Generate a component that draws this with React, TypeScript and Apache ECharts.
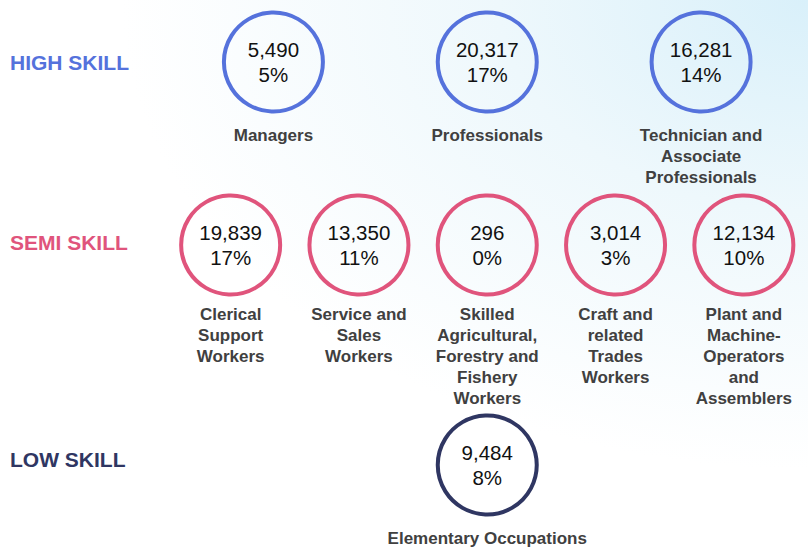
import React, { useEffect, useRef } from "react";
import * as echarts from "echarts";

const rowLabels = ["HIGH SKILL", "SEMI SKILL", "LOW SKILL"];

const highCategories = ["Managers", "Professionals", "Technician and\nAssociate\nProfessionals"];
const highValues = [5490, 20317, 16281];
const highPercents = [5, 17, 14];

const semiCategories = [
  "Clerical\nSupport\nWorkers",
  "Service and\nSales\nWorkers",
  "Skilled\nAgricultural,\nForestry and\nFishery\nWorkers",
  "Craft and\nrelated\nTrades\nWorkers",
  "Plant and\nMachine-\nOperators\nand\nAssemblers",
];
const semiValues = [19839, 13350, 296, 3014, 12134];
const semiPercents = [17, 11, 0, 3, 10];

const lowCategories = ["Elementary Occupations"];
const lowValues = [9484];
const lowPercents = [8];

const rowColors = ["#5572DC", "#E0547C", "#2F3662"];

const FONT = "'Liberation Sans', Arial, Helvetica, sans-serif";

export default function App() {
  const ref = useRef<HTMLDivElement>(null);

  useEffect(() => {
    document.body.style.margin = "0";
    if (!ref.current) return;
    const chart = echarts.init(ref.current, undefined, { renderer: "svg" });

    const rows = [
      { cats: highCategories, vals: highValues, pcts: highPercents, top: 12, xMargin: 13, yAlign: "middle", yLH: 21 },
      { cats: semiCategories, vals: semiValues, pcts: semiPercents, top: 195, xMargin: 9, yAlign: "bottom", yLH: 5 },
      { cats: lowCategories, vals: lowValues, pcts: lowPercents, top: 415, xMargin: 13, yAlign: "bottom", yLH: 11 },
    ];

    const gridLeft = 166.5;
    const gridWidth = 643.5;
    const gridHeight = 100;

    const option: any = {
      animation: false,
      backgroundColor: "#ffffff",
      graphic: [
        {
          type: "rect",
          z: -10,
          silent: true,
          shape: { x: 0, y: 0, width: 808, height: 552 },
          style: {
            fill: {
              type: "radial",
              x: 1,
              y: 0,
              r: 0.85,
              colorStops: [
                { offset: 0, color: "#d9f0fa" },
                { offset: 0.45, color: "#eef8fc" },
                { offset: 1, color: "#ffffff" },
              ],
            },
          },
        },
      ],
      grid: rows.map((r) => ({
        left: gridLeft,
        width: gridWidth,
        top: r.top,
        height: gridHeight,
        containLabel: false,
      })),
      xAxis: rows.map((r, i) => ({
        type: "category",
        gridIndex: i,
        data: r.cats,
        axisLine: { show: false },
        axisTick: { show: false },
        splitLine: { show: false },
        axisLabel: {
          interval: 0,
          margin: r.xMargin,
          color: "#404040",
          fontFamily: FONT,
          fontWeight: "bold",
          fontSize: 17,
          lineHeight: 21,
          align: "center",
        },
      })),
      yAxis: rows.map((r, i) => ({
        type: "category",
        gridIndex: i,
        data: [rowLabels[i]],
        axisLine: { show: false },
        axisTick: { show: false },
        splitLine: { show: false },
        axisLabel: {
          margin: gridLeft - 10,
          align: "left",
          verticalAlign: r.yAlign,
          lineHeight: r.yLH,
          color: rowColors[i],
          fontFamily: FONT,
          fontWeight: "bold",
          fontSize: 21,
        },
      })),
      series: rows.map((r, i) => ({
        type: "scatter",
        xAxisIndex: i,
        yAxisIndex: i,
        symbol: "circle",
        symbolSize: 99,
        itemStyle: {
          color: "rgba(255,255,255,0)",
          borderColor: rowColors[i],
          borderWidth: 4,
          opacity: 1,
        },
        emphasis: { disabled: true },
        label: {
          show: true,
          position: "inside",
          color: "#111111",
          fontFamily: FONT,
          fontSize: 20.5,
          lineHeight: 25,
          formatter: (p: any) =>
            `${r.vals[p.dataIndex].toLocaleString("en-US")}\n${r.pcts[p.dataIndex]}%`,
        },
        data: r.cats.map((_, j) => [j, 0]),
      })),
    };

    chart.setOption(option);
    return () => chart.dispose();
  }, []);

  return <div ref={ref} style={{ width: 808, height: 552 }} />;
}
